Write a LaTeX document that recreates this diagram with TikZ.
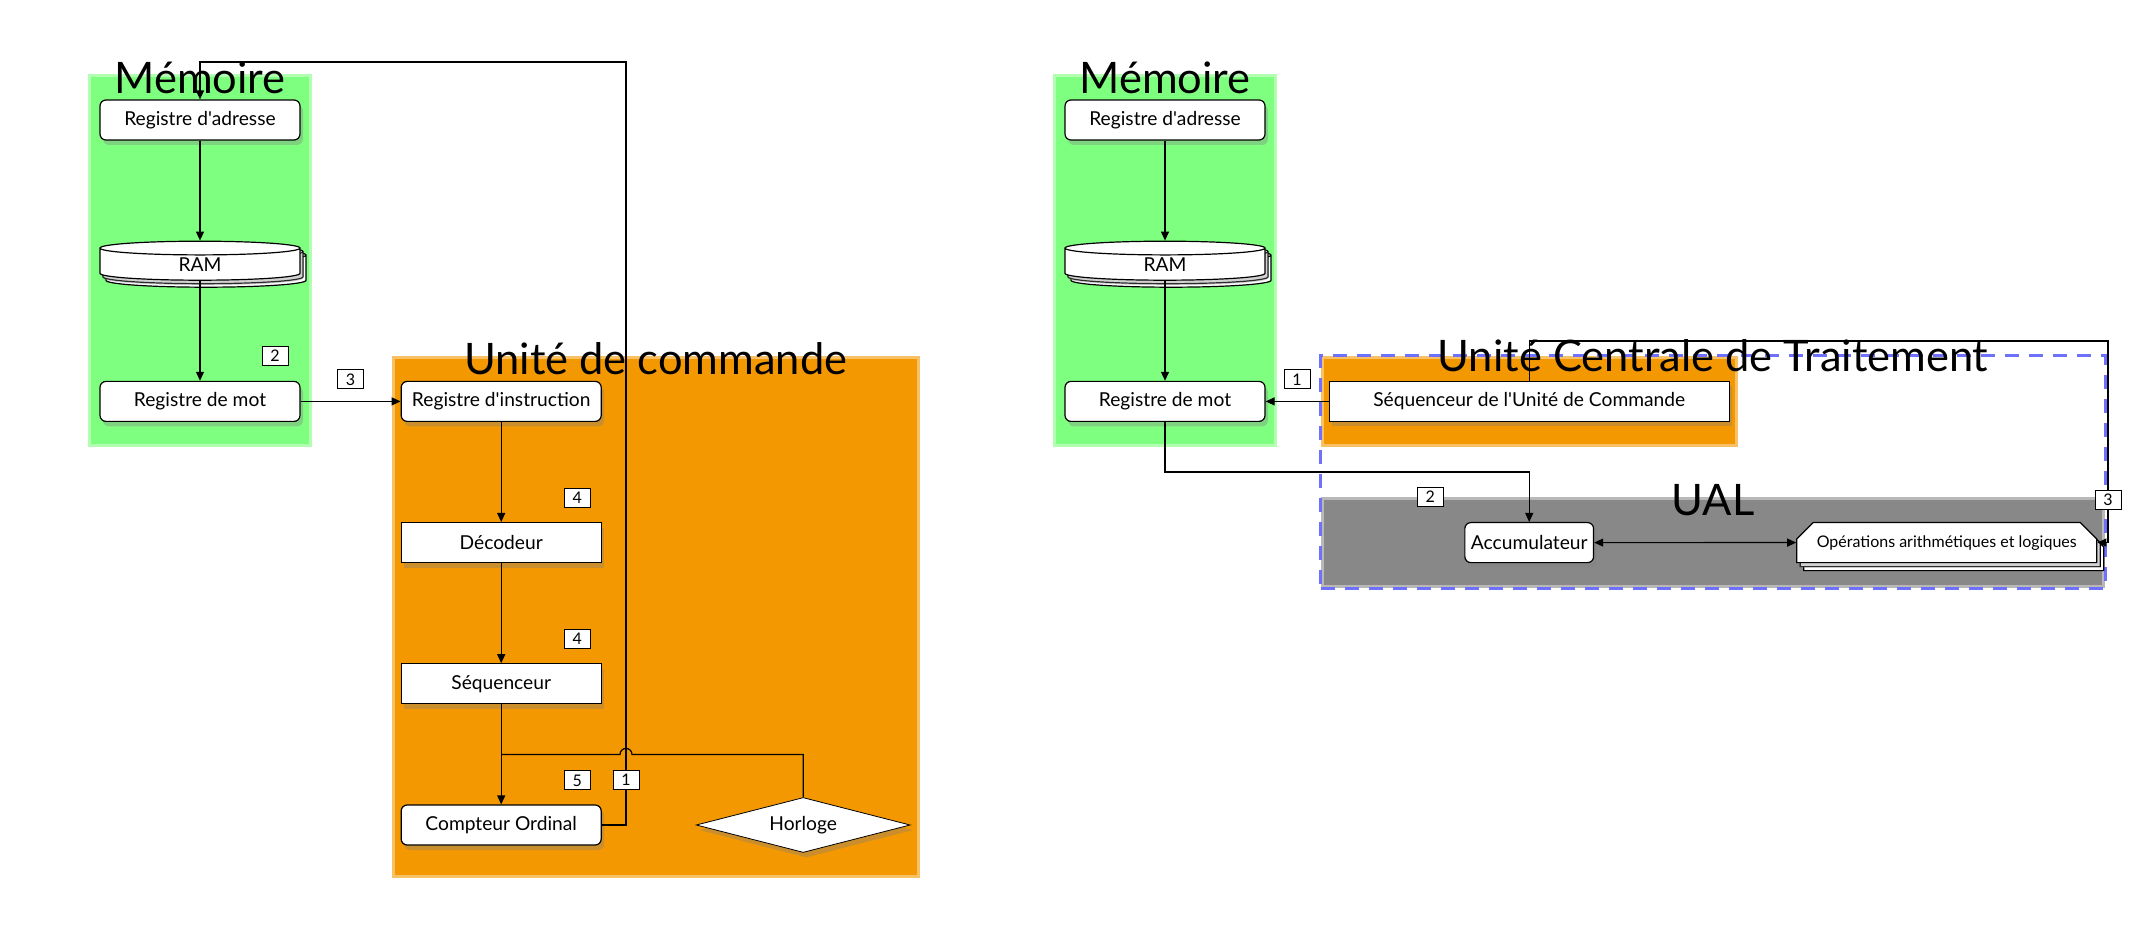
\documentclass[tikz,border=0pt]{standalone}
\usepackage{fontspec}
\setmainfont{Lato}
\usetikzlibrary{arrows.meta,chains,positioning,fit,backgrounds,shapes.geometric,shapes.misc,shadows}

\definecolor{vertmem}{RGB}{127,255,127}
\definecolor{orangecmd}{RGB}{243,152,0}
\definecolor{grisual}{RGB}{136,136,136}
\definecolor{bleucadre}{RGB}{112,112,255}

\begin{document}
\begin{tikzpicture}[
  node distance=50pt,
  line width=0.6pt,
  font=\fontsize{9.6}{11}\selectfont,
  >={Triangle[length=4.5pt,width=4pt]},
  every join/.style={->},
  ombre/.style={drop shadow={shadow xshift=1.5pt,shadow yshift=-2.5pt,opacity=.35}},
  registre/.style={rectangle,rounded corners=3pt,draw,fill=white,ombre,minimum width=100pt,minimum height=20pt,inner sep=2pt},
  bloc/.style={registre,sharp corners},
  memoire/.style={cylinder,shape border rotate=90,aspect=0.32,draw,fill=white,
    double copy shadow={shadow xshift=1.5pt,shadow yshift=-1.75pt},ombre,minimum width=100pt,minimum height=19.5pt,inner sep=0pt},
  signal/.style={diamond,draw,line width=.4pt,fill=white,ombre,aspect=3.9,minimum width=107pt,minimum height=27.5pt,inner sep=0pt},
  operations/.style={chamfered rectangle,chamfered rectangle corners={north west,north east},
    chamfered rectangle xsep=15pt,chamfered rectangle ysep=4.5pt,draw,fill=white,
    double copy shadow={shadow xshift=1.75pt,shadow yshift=-2pt},ombre,
    minimum width=150pt,minimum height=20pt,inner sep=0pt,font=\fontsize{8}{9}\selectfont},
  etiq/.style={draw,fill=white,line width=.5pt,font=\fontsize{8}{9}\selectfont,inner sep=0pt,minimum width=13pt,minimum height=9.5pt},
  fond/.style={fill=#1,draw=#1,draw opacity=.6,line width=3pt,inner sep=0pt,outer sep=0pt},
  titre/.style={font=\fontsize{21.7}{26}\selectfont,inner sep=0pt},
  cadre/.style={draw=bleucadre,line width=1.5pt,dash pattern=on 7pt off 5pt,inner sep=1.5pt,outer sep=0pt}]

  \useasboundingbox (0,0) rectangle (1078pt,-470pt);

  % --- ordinateur : memoire + unite de commande
  \begin{scope}[start chain=memA going below]
    \node(adr)  [registre,on chain] at (100pt,-60pt) {Registre d\textquotesingle adresse};
    \node(ram)  [memoire,on chain,join] {RAM};
    \node(mot)  [registre,on chain,join] {Registre de mot};
  \end{scope}
  \begin{scope}[start chain=cmd going below]
    \node(instr)[registre,on chain,right=of mot] {Registre d\textquotesingle instruction};
    \node(decod)[bloc,on chain,join] {Décodeur};
    \node(seq)  [bloc,on chain,join] {Séquenceur};
    \node(co)   [registre,on chain,join] {Compteur Ordinal};
  \end{scope}
  \node(horloge)[signal,right=47pt of co] {Horloge};

  % --- processeur : memoire + UCT
  \begin{scope}[start chain=memB going below]
    \node(adrB) [registre,on chain] at (582.5pt,-60pt) {Registre d\textquotesingle adresse};
    \node(ramB) [memoire,on chain,join] {RAM};
    \node(motB) [registre,on chain,join] {Registre de mot};
  \end{scope}
  \node(sequc)[bloc,minimum width=200pt,right=31.5pt of motB] {Séquenceur de l\textquotesingle Unité de Commande};
  \node(acc)  [registre,minimum width=0pt,inner sep=3pt,below=of sequc] {Accumulateur};
  \node(ops)  [operations,right=101pt of acc] {Opérations arithmétiques et logiques};

  \begin{scope}[on background layer]
    \node(fondA)[fond=vertmem,fit=(adr)(ram)(mot),inner xsep=4pt,inner ysep=11pt]{};
    \node(fondB)[fond=orangecmd,fit=(instr)(co)(horloge),inner xsep=3pt,inner ysep=11pt]{};
    \node(fondC)[fond=vertmem,fit=(adrB)(ramB)(motB),inner xsep=4pt,inner ysep=11pt]{};
    \node(fondD)[fond=orangecmd,fit=(sequc),inner xsep=2.5pt,inner ysep=11pt]{};
    \node(fondE)[fond=grisual,fit=(acc)(ops)(sequc.west |- acc.center),inner xsep=2.5pt,inner ysep=11pt]{};
    \node(uct)  [cadre,fit=(fondD)(fondE)]{};
    \node[titre] at (fondA.north) {Mémoire};
    \node[titre] at (fondB.north) {Unité de commande};
    \node[titre] at (fondC.north) {Mémoire};
    \node[titre] at (uct.north)   {Unité Centrale de Traitement};
    \node[titre] at (fondE.north) {UAL};
  \end{scope}

  \coordinate (haut) at (313pt,-31pt);
  \coordinate (jonction) at ([yshift=25pt]co.north);
  \coordinate (hautB) at (1054pt,-170.5pt);

  \draw[->] (mot) -- node[etiq,yshift=11pt]{3} (instr);
  \draw[->] (co.east) -| (haut) -| (adr.north);
  \draw (horloge.north) |- ([xshift=3pt]haut |- jonction) arc[start angle=0,end angle=180,radius=3pt] -- (jonction);

  \draw[->] (sequc) -- node[etiq,yshift=11pt]{1} (motB);
  \draw[->] (motB.south) -- ++(0,-25pt) -| (acc.north);
  \draw[<->] (acc) -- (ops);
  \draw[->] (sequc.north) |- (hautB) |- (ops.east);

  \node[etiq] at ([shift={(37.5pt,12.5pt)}]mot.north)   {2};
  \node[etiq] at ([shift={(38pt,12pt)}]decod.north)     {4};
  \node[etiq] at ([shift={(38pt,12pt)}]seq.north)       {4};
  \node[etiq] at ([shift={(38pt,12pt)}]co.north)        {5};
  \node[etiq] at ([yshift=22.5pt]co.east -| haut)       {1};
  \node[etiq] at ([shift={(-49.5pt,12.5pt)}]acc.north)  {2};
  \node[etiq] at ([yshift=21.5pt]ops.east -| hautB)     {3};

\end{tikzpicture}
\end{document}
